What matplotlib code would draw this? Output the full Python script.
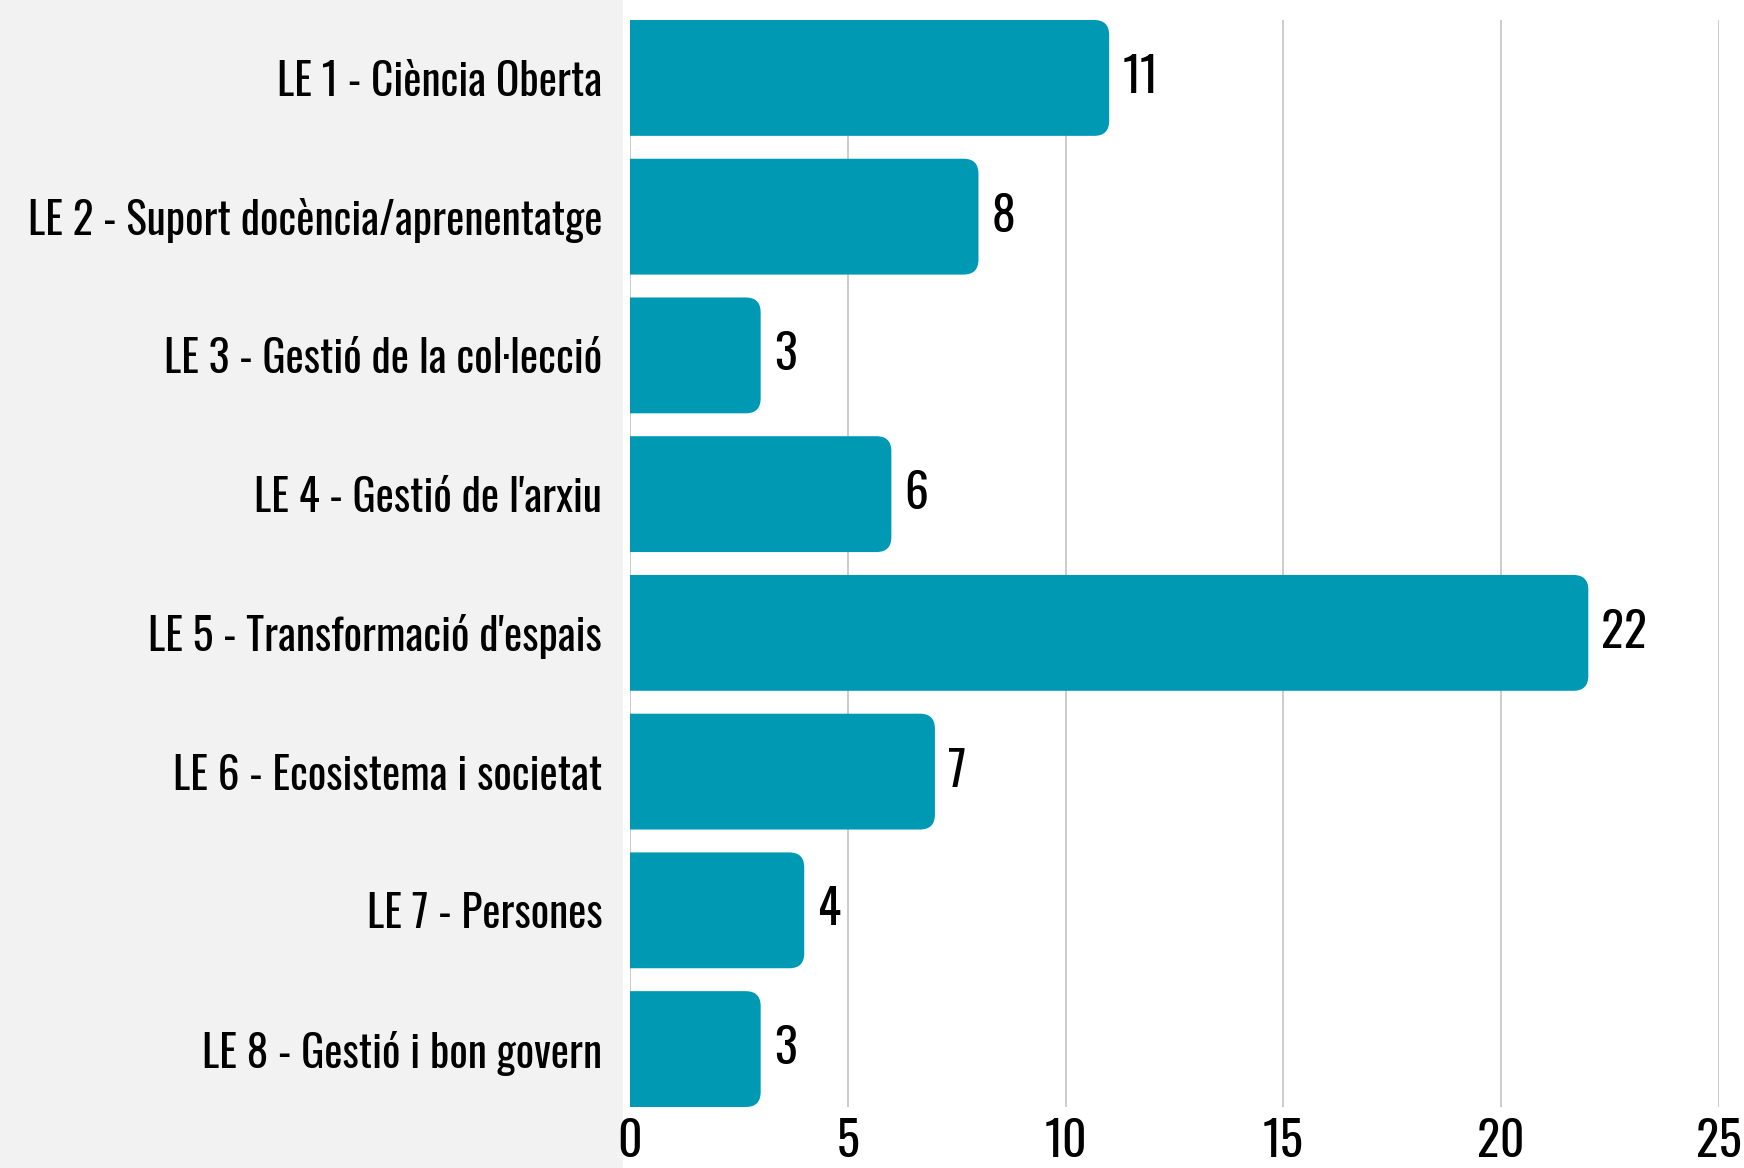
import matplotlib
matplotlib.use("Agg")
import matplotlib.pyplot as plt
from matplotlib import font_manager as fm
from matplotlib.patches import FancyBboxPatch, Rectangle

categories = [
    "LE 1 - Ciència Oberta",
    "LE 2 - Suport docència/aprenentatge",
    "LE 3 - Gestió de la col·lecció",
    "LE 4 - Gestió de l'arxiu",
    "LE 5 - Transformació d'espais",
    "LE 6 - Ecosistema i societat",
    "LE 7 - Persones",
    "LE 8 - Gestió i bon govern",
]
values = [11, 8, 3, 6, 22, 7, 4, 3]
xticks = [0, 5, 10, 15, 20, 25]

BAR_COLOR = "#0099B4"
PANEL_COLOR = "#F2F2F2"

# pick the narrowest family we can find, the original uses a condensed face
names = {f.name for f in fm.fontManager.ttflist}
family = "DejaVu Sans"
stretch = "normal"
for cand in ["Oswald", "Roboto Condensed", "Liberation Sans Narrow", "Open Sans Condensed",
             "Noto Sans Condensed", "Arial Narrow"]:
    if cand in names:
        family = cand
        break
else:
    if any(f.name == "DejaVu Sans" and str(f.stretch) in ("condensed", "semi-condensed")
           for f in fm.fontManager.ttflist):
        stretch = "condensed"
plt.rcParams["font.family"] = [family, "DejaVu Sans"]
plt.rcParams["font.stretch"] = stretch

W, H, DPI = 1744, 1168, 100
fig = plt.figure(figsize=(W / DPI, H / DPI), dpi=DPI)
fig.patches.append(Rectangle((0, 0), 623 / W, 1, transform=fig.transFigure,
                             facecolor=PANEL_COLOR, edgecolor="none", zorder=-10))

ax = fig.add_axes([630 / W, 61 / H, (1719 - 630) / W, (1107 - 20) / H])
ax.set_facecolor("none")

n = len(categories)
ypos = list(range(n))
bar_h = 0.835
ax.set_xlim(0, 25)
ax.set_ylim(n - 1 + bar_h / 2, -bar_h / 2)

# pixel scale of each axis, for round corners that look circular
px_x = ax.get_position().width * W / 25
px_y = ax.get_position().height * H / (n - 1 + bar_h)
r_px = 15
bars = ax.barh(ypos, values, height=bar_h, color="none")
for b in bars:
    x0, y0 = b.get_x(), b.get_y()
    w, h = b.get_width(), b.get_height()
    patch = FancyBboxPatch((x0 - 1, y0), w + 1, h,
                           boxstyle=f"round,pad=0,rounding_size={r_px / px_x}",
                           mutation_aspect=px_x / px_y,
                           facecolor=BAR_COLOR, edgecolor="none", zorder=3)
    ax.add_patch(patch)

ax.set_xticks(xticks)
ax.set_xticklabels([str(t) for t in xticks])
ax.set_yticks(ypos)
ax.set_yticklabels(categories)
ax.grid(axis="x", color="#C8C8C8", linewidth=1.3, zorder=0)
ax.set_axisbelow(True)
for s in ax.spines.values():
    s.set_visible(False)
ax.tick_params(axis="both", length=0, colors="black")
ax.tick_params(axis="y", pad=20)
ax.tick_params(axis="x", pad=8)

size = 38
value_texts = []
for v, y in zip(values, ypos):
    value_texts.append(ax.text(v + 0.3, y, str(v), va="center", ha="left", fontsize=size))

# fit font size so the longest category label spans like the original (~572 px)
fig.canvas.draw()
rend = fig.canvas.get_renderer()
for lab in ax.get_yticklabels():
    lab.set_fontsize(size)
fig.canvas.draw()
widest = max(l.get_window_extent(rend).width for l in ax.get_yticklabels())
size = min(size, size * 574 / widest)
for lab in ax.get_yticklabels():
    lab.set_fontsize(size)
for lab in ax.get_xticklabels():
    lab.set_fontsize(size * 1.1)
for t in value_texts:
    t.set_fontsize(size * 1.1)

fig.savefig("out.png", dpi=DPI)
